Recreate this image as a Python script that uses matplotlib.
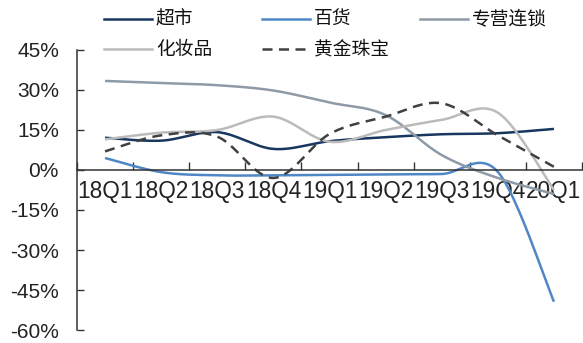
import numpy as np
import matplotlib
matplotlib.use("Agg")
import matplotlib.pyplot as plt
from matplotlib.lines import Line2D

# Quarterly growth by retail format (%)
quarters = ['18Q1', '18Q2', '18Q3', '18Q4', '19Q1', '19Q2', '19Q3', '19Q4', '20Q1']
supermarket = [12.1, 11.0, 14.2, 7.9, 10.8, 12.3, 13.4, 13.8, 15.4]
department = [4.5, -0.8, -2.0, -2.0, -1.8, -1.6, -1.5, -0.7, -49.4]
specialty_chain = [33.4, 32.6, 31.8, 29.8, 25.3, 20.6, 5.6, -3.0, -9.0]
cosmetics = [11.5, 14.0, 15.0, 20.0, 10.6, 15.0, 18.8, 21.5, -7.5]
jewelry = [7.0, 13.0, 12.5, -3.0, 13.5, 20.0, 25.0, 13.0, 1.2]

series_names = ['超市', '百货', '专营连锁', '化妆品', '黄金珠宝']
series_values = [supermarket, department, specialty_chain, cosmetics, jewelry]
series_colors = ['#17375E', '#4F86C6', '#8E9AA6', '#BBBBBB', '#404040']
series_dashed = [False, False, False, False, True]

y_ticks = [45, 30, 15, 0, -15, -30, -45, -60]


def smooth(xs, ys, n=24):
    """Catmull-Rom curve through the points, like a smoothed line chart."""
    xs = np.asarray(xs, float)
    ys = np.asarray(ys, float)
    px = np.concatenate([[xs[0]], xs, [xs[-1]]])
    py = np.concatenate([[ys[0]], ys, [ys[-1]]])
    out_x, out_y = [], []
    t = np.linspace(0, 1, n, endpoint=False)
    for i in range(1, len(px) - 2):
        m1x = (px[i + 1] - px[i - 1]) / 2
        m2x = (px[i + 2] - px[i]) / 2
        m1y = (py[i + 1] - py[i - 1]) / 2
        m2y = (py[i + 2] - py[i]) / 2
        h00 = 2 * t**3 - 3 * t**2 + 1
        h10 = t**3 - 2 * t**2 + t
        h01 = -2 * t**3 + 3 * t**2
        h11 = t**3 - t**2
        out_x.append(h00 * px[i] + h10 * m1x + h01 * px[i + 1] + h11 * m2x)
        out_y.append(h00 * py[i] + h10 * m1y + h01 * py[i + 1] + h11 * m2y)
    out_x.append([xs[-1]])
    out_y.append([ys[-1]])
    return np.concatenate(out_x), np.concatenate(out_y)


W, H = 583, 343
fig = plt.figure(figsize=(W / 100, H / 100), dpi=100)
ax = fig.add_axes([77 / W, 13 / H, 505 / W, 280 / H])

x = np.arange(len(quarters)) + 0.5
for vals, col, dashed in zip(series_values, series_colors, series_dashed):
    sx, sy = smooth(x, vals)
    if dashed:
        ax.plot(sx, sy, color=col, lw=1.8, dashes=(4, 2.6))
    else:
        ax.plot(sx, sy, color=col, lw=1.8, solid_capstyle='butt')

ax.set_xlim(0, len(quarters))
ax.set_ylim(-60, 45)

for s in ['top', 'right']:
    ax.spines[s].set_visible(False)
ax.spines['bottom'].set_position(('data', 0))
for s in ['left', 'bottom']:
    ax.spines[s].set_color('#333333')
    ax.spines[s].set_linewidth(1.1)

ax.set_yticks(y_ticks)
ax.set_yticklabels([f'{v}%' for v in y_ticks], family='Liberation Sans', fontsize=15, color='#222222')
ax.tick_params(axis='y', direction='in', length=5, width=1.0, color='#333333', pad=13)

ax.set_xticks(np.arange(len(quarters) + 1))
ax.set_xticklabels([])
ax.tick_params(axis='x', which='major', direction='in', length=6, width=1.0, color='#333333')
ax.set_xticks(x, minor=True)
ax.set_xticklabels(quarters, minor=True, family='Liberation Sans', fontsize=16.3, color='#222222')
ax.tick_params(axis='x', which='minor', length=0, pad=7)

# Legend laid out in two rows above the plot
legend_slots = [(104, 19), (262, 19), (420, 19), (104, 49), (262, 49)]
for name, col, dashed, (lx, ly) in zip(series_names, series_colors, series_dashed, legend_slots):
    yf = 1 - ly / H
    line = Line2D([lx / W, (lx + 48) / W], [yf, yf], transform=fig.transFigure,
                  color=col, lw=1.8)
    if dashed:
        line.set_dashes((4, 2.6))
    fig.add_artist(line)
    fig.text((lx + 52) / W, yf, name, family=['Noto Sans CJK SC', 'DejaVu Sans'],
             fontsize=13.5, va='center', ha='left', color='#111111')

fig.savefig('out.png', dpi=100)
